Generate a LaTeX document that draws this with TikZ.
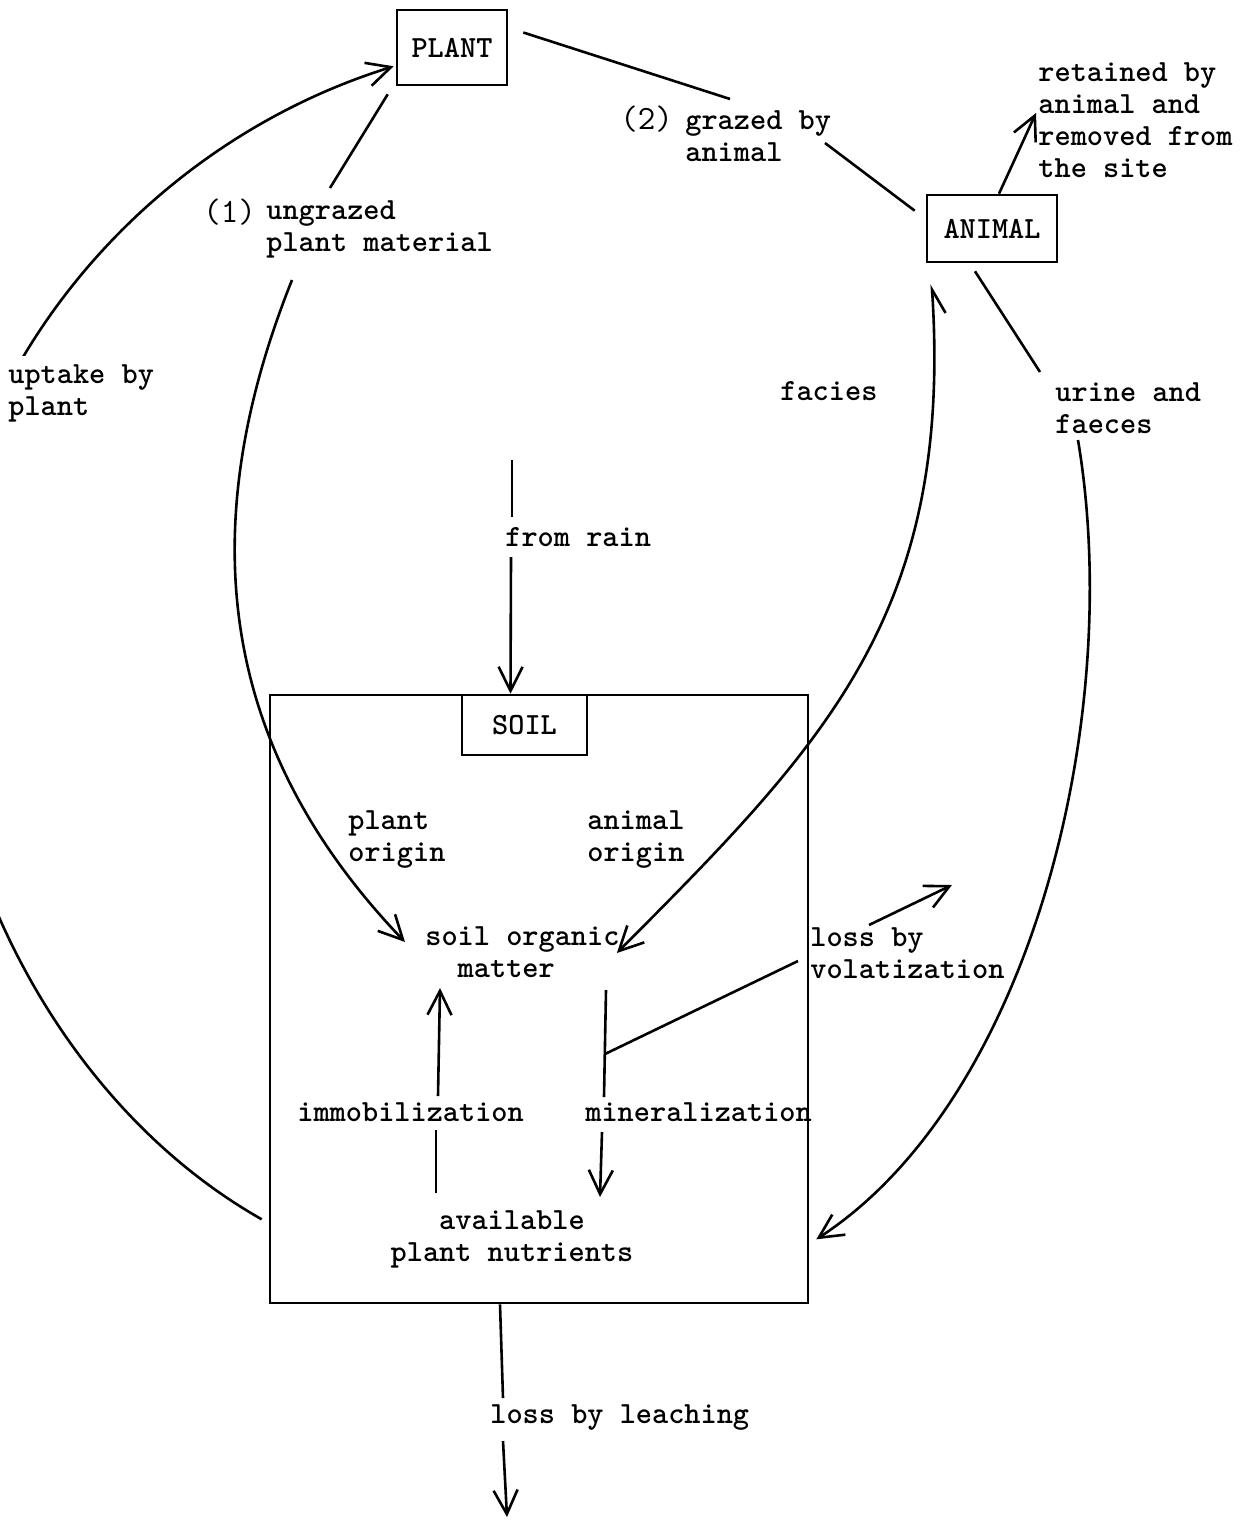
\documentclass[tikz,border=0pt]{standalone}
\usetikzlibrary{arrows.meta,calc}
\newcommand\tyf{\ttfamily\bfseries\fontsize{15.4}{16}\selectfont}
\newcommand\numf{\ttfamily\fontsize{17}{17}\selectfont}
\begin{document}
\begin{tikzpicture}[x=0.5pt,y=-0.5pt,
  box/.style={draw,line width=1.3pt,inner sep=0pt,font=\tyf},
  lbl/.style={inner sep=1pt,align=left,anchor=west,font=\tyf},
  ln/.style={line width=1.3pt},
  tip/.style={-{Straight Barb[length=12pt,width=12pt]}},
  arr/.style={ln,tip},
]
\useasboundingbox (0,0) rectangle (1247,1521);
% boxes
\node[box,minimum width=55pt,minimum height=37.5pt] (plant) at (452,47.5) {PLANT};
\node[box,minimum width=65pt,minimum height=33.5pt] (animal) at (992,228.5) {ANIMAL};
\node[box,minimum width=269pt,minimum height=304pt] (soilbox) at (539,999) {};
\node[box,minimum width=62.5pt,minimum height=30pt] (soil) at (524.5,725) {SOIL};
% labels
\node[lbl,font=\numf] (n1) at (201,212) {(1)};
\node[lbl] (ungrazed) at (264,229) {ungrazed\\plant material};
\node[lbl,font=\numf] (n2) at (618,119) {(2)};
\node[lbl] (grazed) at (683,136) {grazed by\\animal};
\node[lbl] (retained) at (1036,120) {retained by\\animal and\\removed from\\the site};
\node[lbl] (facies) at (778,391) {facies};
\node[lbl] (urine) at (1053,408) {urine and\\faeces};
\node[lbl] (rain) at (503,537) {from rain};
\node[lbl] (plorigin) at (346,840) {plant\\origin};
\node[lbl] (anorigin) at (585,840) {animal\\origin};
\node[lbl] (som) at (423,952) {soil organic\\\phantom{so}matter};
\node[lbl,align=center,anchor=center] (apn) at (512,1239) {available\\plant nutrients};
\node[lbl] (immob) at (295,1112) {immobilization};
\node[lbl] (miner) at (583,1112) {mineralization};
\node[lbl] (volat) at (808,953) {loss by\\volatization};
\node[lbl] (leach) at (488,1418) {loss by leaching};
% uptake by plant
\coordinate (upA) at ($(soilbox.south west)+(-7,-85)$);
\coordinate (upL) at (-60,650);
\coordinate (upC) at ($(plant.south west)+(-2,-20)$);
\draw[arr] (upA) .. controls (60,1105) and (-60,860) .. (upL) .. controls (-60,390) and (131,148) .. (upC);
% ungrazed plant material
\coordinate (ugA) at ($(plant.south west)+(-8,8)$);
\coordinate (ugB) at (330,188);
\coordinate (ugC) at (292,280);
\coordinate (ugD) at ($(som.west)+(-18,-10)$);
\draw[ln] (ugA) -- (ugB);
\draw[arr] (ugC) .. controls (188,540) and (226,755) .. (ugD);
% grazed by animal
\coordinate (grA) at ($(plant.east)+(15,-15)$);
\coordinate (grB) at (730,99);
\coordinate (grC) at (825,143);
\coordinate (grD) at ($(animal.north west)+(-11,17)$);
\draw[ln] (grA) -- (grB);
\draw[ln] (grC) -- (grD);
% retained
\coordinate (reA) at ($(animal.north)+(7,0)$);
\coordinate (reB) at ($(retained.west)+(0,-7)$);
\draw[arr] (reA) -- (reB);
% urine and faeces
\coordinate (urA) at ($(animal.south)+(-17,8)$);
\coordinate (urB) at (1040,372);
\coordinate (urC) at (1078,440);
\coordinate (urD) at ($(soilbox.south east)+(7,-65)$);
\draw[ln] (urA) -- (urB);
\draw[arr] (urC) .. controls (1125,720) and (1030,1100) .. (urD);
% facies
\coordinate (faA) at ($(animal.south west)+(6,21)$);
\coordinate (faB) at ($(som.east)+(-5,1)$);
\draw[ln,{Straight Barb[harpoon,swap,length=12pt,width=12pt]}-{Straight Barb[length=12pt,width=12pt]}] (faA) .. controls (953,613) and (826,743) .. (faB);
% from rain
\coordinate (raA) at (512,460);
\coordinate (raB) at (512,517);
\coordinate (raC) at (511,557);
\coordinate (raD) at ($(soil.north)+(-14,0)$);
\draw[ln] (raA) -- (raB);
\draw[arr] (raC) -- (raD);
% immobilization
\coordinate (imA) at (436,1193);
\coordinate (imB) at (436,1130);
\coordinate (imC) at (438,1096);
\coordinate (imD) at (440,988);
\draw[ln] (imA) -- (imB);
\draw[arr] (imC) -- (imD);
% mineralization
\coordinate (miA) at (606,990);
\coordinate (miB) at (604,1097);
\coordinate (miC) at (602,1132);
\coordinate (miD) at (600,1197);
\draw[ln] (miA) -- (miB);
\draw[arr] (miC) -- (miD);
% volatization
\coordinate (voA) at (605,1054);
\coordinate (voB) at (798,961);
\coordinate (voC) at (869,925);
\coordinate (voD) at (952,885);
\draw[ln] (voA) -- (voB);
\draw[arr] (voC) -- (voD);
% leaching
\coordinate (leA) at ($(soilbox.south)+(-39,0)$);
\coordinate (leB) at (503,1398);
\coordinate (leC) at (503,1441);
\coordinate (leD) at (507,1517);
\draw[ln] (leA) -- (leB);
\draw[arr] (leC) -- (leD);
% label over the uptake curve
\node[lbl,fill=white,inner sep=4pt] (uptake) at (0,393) {uptake by\\plant};
\end{tikzpicture}
\end{document}
